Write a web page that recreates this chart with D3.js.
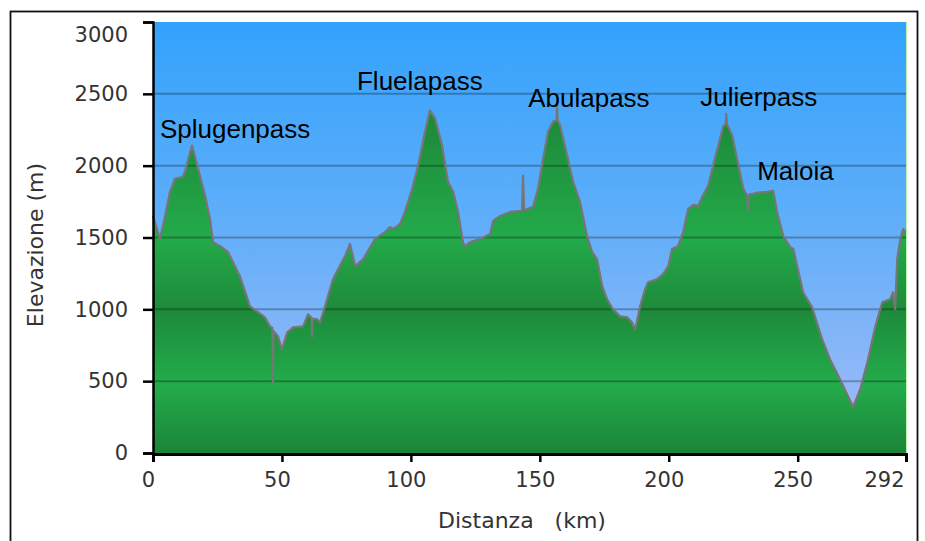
<!DOCTYPE html>
<html>
<head>
<meta charset="utf-8">
<script src="https://cdn.jsdelivr.net/npm/d3@7"></script>
<style>
  html, body { margin: 0; padding: 0; background: #ffffff; }
  svg { display: block; }
</style>
</head>
<body>
<svg id="chart" width="925" height="541"></svg>
<script>
// ---- data ----
const distanceKm = [
  0, 2.7, 4.7, 6.6, 8.5, 11.6, 12.4, 15.1, 17.5, 20.2, 22.1, 23.3, 26.0, 29.1, 33.7,
  37.6, 40.3, 43.4, 45.4, 46.3, 46.5, 46.7, 48.5, 50.0, 52.0, 54.3, 58.2, 60.1, 60.9,
  61.5, 61.7, 61.9, 63.6, 64.8, 66.7, 69.8, 71.8, 74.5, 76.4, 78.4, 81.5, 86.1, 90.0,
  91.9, 93.1, 95.8, 97.7, 100.5, 102.8, 105.5, 107.4, 109.4, 112.1, 114.4, 116.4,
  118.3, 120.2, 120.9, 123.0, 126.8, 130.7, 131.9, 134.6, 138.5, 143.1, 143.5, 143.9,
  147.4, 149.3, 151.3, 153.2, 155.2, 156.5, 156.7, 156.9, 157.9, 160.6, 162.9, 165.6,
  168.3, 170.3, 172.2, 174.2, 176.1, 178.4, 181.1, 183.9, 185.8, 187.0, 188.9, 190.8,
  192.0, 195.5, 197.8, 199.8, 201.3, 203.6, 205.6, 207.5, 209.5, 211.4, 213.0, 215.3,
  217.2, 219.2, 221.1, 222.1, 222.3, 222.5, 224.6, 226.9, 228.9, 230.4, 230.8, 231.2,
  232.7, 234.5, 238.2, 240.5, 242.0, 244.4, 247.1, 248.3, 252.1, 255.6, 259.5, 262.6,
  266.5, 269.6, 271.5, 274.2, 277.0, 280.1, 282.8, 285.9, 287.0, 287.8, 288.6, 289.8,
  290.9, 292.0
];
const elevationM = [
  1650, 1490, 1650, 1818, 1909, 1923, 1958, 2140, 1979, 1790, 1629, 1468, 1440, 1398, 1231,
  1021, 986, 944, 881, 870, 490, 850, 811, 720, 839, 874, 881, 965, 951,
  940, 811, 935, 930, 909, 1021, 1210, 1280, 1371, 1455, 1301, 1350, 1490, 1538,
  1573, 1559, 1594, 1678, 1839, 2000, 2238, 2385, 2329, 2140, 1888, 1818,
  1678, 1468, 1440, 1468, 1490, 1524, 1615, 1650, 1678, 1685, 1930, 1690,
  1713, 1839, 2049, 2238, 2308, 2315, 2420, 2315, 2280, 2070, 1888, 1748,
  1510, 1398, 1350, 1161, 1070, 1000, 951, 944, 909, 860, 1021, 1140,
  1189, 1210, 1245, 1301, 1420, 1440, 1538, 1699, 1727, 1720, 1783, 1860,
  2000, 2140, 2272, 2294, 2360, 2294, 2210, 2014, 1839, 1790, 1685, 1800,
  1804, 1812, 1818, 1825, 1678, 1510, 1433, 1420, 1119, 1014, 790, 650,
  510, 391, 322, 440, 629, 881, 1049, 1070, 1119, 1000, 1350, 1490,
  1559, 1538
];
const passNames = ["Splugenpass", "Fluelapass", "Abulapass", "Julierpass", "Maloia"];
const passLabelKm = [2.7, 79.1, 145.5, 212.2, 234.3];
const passLabelElev = [2193, 2527, 2408, 2415, 1900];
const xTickValues = [0, 50, 100, 150, 200, 250, 292];
const yTickValues = [0, 500, 1000, 1500, 2000, 2500, 3000];
const xTitle = "Distanza   (km)";
const yTitle = "Elevazione (m)";

// ---- drawing ----
const profile = distanceKm.map((d, i) => ({ km: d, m: elevationM[i] }));
const svg = d3.select("#chart");
const x = d3.scaleLinear().domain([0, 292]).range([153, 906]);
const y = d3.scaleLinear().domain([0, 3000]).range([453, 22]);

const defs = svg.append("defs");
const sky = defs.append("linearGradient").attr("id", "sky")
  .attr("gradientUnits", "userSpaceOnUse")
  .attr("x1", 0).attr("x2", 0).attr("y1", y(3000)).attr("y2", y(0));
[[0, "#33a2fc"], [0.45, "#5eaef9"], [0.8, "#8cb7f7"], [1, "#a6bbf6"]]
  .forEach(([o, c]) => sky.append("stop").attr("offset", o).attr("stop-color", c));

const grass = defs.append("linearGradient").attr("id", "grass")
  .attr("gradientUnits", "userSpaceOnUse")
  .attr("x1", 0).attr("x2", 0).attr("y1", y(3000)).attr("y2", y(0));
[[0, "#1f9a41"], [0.23, "#1d8a3a"], [0.5, "#23aa4a"], [0.67, "#1e8a3b"],
 [0.84, "#23ac4b"], [1, "#1b8538"]]
  .forEach(([o, c]) => grass.append("stop").attr("offset", o).attr("stop-color", c));

// outer frame
svg.append("rect")
  .attr("x", 10.5).attr("y", 11.5).attr("width", 907).attr("height", 560)
  .attr("fill", "none").attr("stroke", "#111").attr("stroke-width", 1.8);

// plot background
svg.append("rect")
  .attr("x", x(0)).attr("y", y(3000))
  .attr("width", x(292) - x(0)).attr("height", y(0) - y(3000))
  .attr("fill", "url(#sky)");

// area
const area = d3.area().x(d => x(d.km)).y0(y(0)).y1(d => y(d.m));
svg.append("path").datum(profile).attr("d", area).attr("fill", "url(#grass)");

// grid lines
svg.append("g").selectAll("line").data(yTickValues.filter(v => v > 0 && v < 3000))
  .join("line")
  .attr("x1", x(0)).attr("x2", x(292))
  .attr("y1", d => y(d)).attr("y2", d => y(d))
  .attr("stroke", "rgba(0,0,0,0.27)").attr("stroke-width", 2);

// profile outline
const line = d3.line().x(d => x(d.km)).y(d => y(d.m));
svg.append("path").datum(profile).attr("d", line)
  .attr("fill", "none").attr("stroke", "#767676").attr("stroke-width", 2.2)
  .attr("stroke-linejoin", "round");

// right edge of plot area
svg.append("line")
  .attr("x1", x(292) + 0.5).attr("x2", x(292) + 0.5)
  .attr("y1", y(3000)).attr("y2", y(0))
  .attr("stroke", "#b8f0b0").attr("stroke-width", 1);

// axes
const yAxis = d3.axisLeft(y).tickValues(yTickValues).tickSize(10).tickPadding(15)
  .tickFormat(d3.format("d"));
const gy = svg.append("g").attr("transform", `translate(${x(0)},0)`).call(yAxis);
gy.select(".domain").attr("stroke", "#000").attr("stroke-width", 2.5);
gy.selectAll(".tick line").attr("stroke", "#000").attr("stroke-width", 2.5);
gy.selectAll(".tick text")
  .attr("font-family", "'DejaVu Sans', Verdana, sans-serif")
  .attr("font-size", 21).attr("fill", "#333")
  .attr("dy", d => d === 3000 ? "0.95em" : "0.32em");

const xAxis = d3.axisBottom(x).tickValues(xTickValues).tickSize(8).tickPadding(10)
  .tickFormat(d3.format("d"));
const gx = svg.append("g").attr("transform", `translate(0,${y(0) + 1})`).call(xAxis);
gx.select(".domain").attr("stroke", "#000").attr("stroke-width", 3);
gx.selectAll(".tick line").attr("stroke", "#000").attr("stroke-width", 2.5);
gx.selectAll(".tick text")
  .attr("font-family", "'DejaVu Sans', Verdana, sans-serif")
  .attr("font-size", 21).attr("fill", "#333")
  .attr("text-anchor", d => d === 292 ? "end" : "middle")
  .attr("dx", d => d === 292 ? -2 : -5);

// axis titles
svg.append("text")
  .attr("x", 522).attr("y", 528)
  .attr("text-anchor", "middle")
  .attr("font-family", "'DejaVu Sans', Verdana, sans-serif")
  .attr("font-size", 22).attr("fill", "#333")
  .style("white-space", "pre")
  .text(xTitle);

svg.append("text")
  .attr("transform", "translate(43,245) rotate(-90)")
  .attr("text-anchor", "middle")
  .attr("font-family", "'DejaVu Sans', Verdana, sans-serif")
  .attr("font-size", 22).attr("fill", "#333")
  .text(yTitle);

// pass labels
svg.append("g").selectAll("text").data(passNames).join("text")
  .attr("x", (d, i) => x(passLabelKm[i]))
  .attr("y", (d, i) => y(passLabelElev[i]))
  .attr("font-family", "'Liberation Sans', Arial, sans-serif")
  .attr("font-size", 26).attr("fill", "#000")
  .text(d => d);
</script>
</body>
</html>
